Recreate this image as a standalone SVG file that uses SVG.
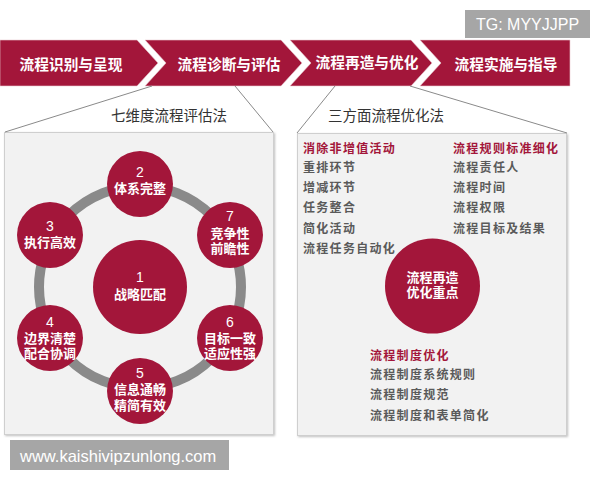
<svg xmlns="http://www.w3.org/2000/svg" width="600" height="480" viewBox="0 0 600 480">
<defs>
<style>
.chev{fill:#a3163a;stroke:#e9c9d0;stroke-width:0.6}
.bt{font-family:"Noto Sans CJK SC","Liberation Sans",sans-serif;font-size:14.7px;font-weight:bold;fill:#fff;text-anchor:middle;dominant-baseline:central}
.title{font-family:"Noto Sans CJK SC","Liberation Sans",sans-serif;font-size:14.5px;fill:#333;dominant-baseline:central}
.panel{fill:#f2f2f2;stroke:#cfcfcf;stroke-width:1}
.funnel{stroke:#8a8a8a;stroke-width:1;fill:none}
.ring{fill:none;stroke:#8a8a8a;stroke-width:10}
.dot{fill:#a3163a}
.ct{font-family:"Noto Sans CJK SC","Liberation Sans",sans-serif;font-size:13px;font-weight:bold;fill:#fff;text-anchor:middle;dominant-baseline:central}
.num{font-family:"Liberation Sans",Arial,sans-serif;font-size:14px;font-weight:normal}
.hd{font-family:"Noto Sans CJK SC","Liberation Sans",sans-serif;font-size:12px;font-weight:bold;fill:#a3163a;letter-spacing:1.3px;dominant-baseline:central}
.it{font-family:"Noto Sans CJK SC","Liberation Sans",sans-serif;font-size:12px;font-weight:bold;fill:#5a5a5a;letter-spacing:1.3px;dominant-baseline:central}
.tag{fill:#a6a6a6}
.tt{font-family:"Liberation Sans",Arial,sans-serif;fill:#fff;dominant-baseline:central}
</style>
<filter id="sh" x="-5%" y="-5%" width="110%" height="110%">
<feDropShadow dx="1" dy="1" stdDeviation="0.8" flood-color="#000" flood-opacity="0.25"/>
</filter>
</defs>
<rect width="600" height="480" fill="#fff"/>

<g id="tag-tg">
<rect class="tag" x="465" y="10" width="125" height="28"/>
<text class="tt" x="527.5" y="24.5" font-size="16" text-anchor="middle">TG: MYYJJPP</text>
</g>

<g id="step1">
<polygon class="chev" points="0,40 137,40 158,63 137,86 0,86"/>
<text class="bt" x="71" y="63">流程识别与呈现</text>
</g>
<g id="step2">
<polygon class="chev" points="145,40 281,40 302,63 281,86 145,86 166,63"/>
<text class="bt" x="229" y="63">流程诊断与评估</text>
</g>
<g id="step3">
<polygon class="chev" points="290,40 411,40 432,63 411,86 290,86 311,63"/>
<text class="bt" x="367" y="61">流程再造与优化</text>
</g>
<g id="step4">
<polygon class="chev" points="420,40 570,40 570,86 420,86 441,63"/>
<text class="bt" x="506" y="63">流程实施与指导</text>
</g>

<g id="panel-left">
<rect class="panel" x="4.5" y="132.5" width="269" height="302" filter="url(#sh)"/>
<text class="title" x="111" y="114">七维度流程评估法</text>
</g>
<g id="panel-right">
<rect class="panel" x="297.5" y="133.5" width="269" height="302" filter="url(#sh)"/>
<text class="title" x="328" y="114">三方面流程优化法</text>
</g>

<g id="connectors">
<line class="funnel" x1="152" y1="86" x2="5" y2="132"/>
<line class="funnel" x1="235" y1="86" x2="273" y2="132"/>
<line class="funnel" x1="335" y1="86" x2="297" y2="133"/>
<line class="funnel" x1="410" y1="86" x2="567" y2="133"/>
<circle class="ring" cx="140" cy="287" r="101"/>
</g>

<g id="c1">
<circle class="dot" cx="140" cy="287" r="47"/>
<text class="ct" x="140" y="277"><tspan class="num">1</tspan><tspan x="140" dy="16">战略匹配</tspan></text>
</g>
<g id="c2">
<circle class="dot" cx="140" cy="184" r="33"/>
<text class="ct" x="140" y="172"><tspan class="num">2</tspan><tspan x="140" dy="15">体系完整</tspan></text>
</g>
<g id="c7">
<circle class="dot" cx="230" cy="235" r="33"/>
<text class="ct" x="230" y="216"><tspan class="num">7</tspan><tspan x="230" dy="16">竞争性</tspan><tspan x="230" dy="15">前瞻性</tspan></text>
</g>
<g id="c6">
<circle class="dot" cx="230" cy="338" r="33"/>
<text class="ct" x="230" y="322"><tspan class="num">6</tspan><tspan x="230" dy="15">目标一致</tspan><tspan x="230" dy="15">适应性强</tspan></text>
</g>
<g id="c5">
<circle class="dot" cx="140" cy="391" r="33"/>
<text class="ct" x="140" y="373"><tspan class="num">5</tspan><tspan x="140" dy="15">信息通畅</tspan><tspan x="140" dy="16">精简有效</tspan></text>
</g>
<g id="c4">
<circle class="dot" cx="50" cy="338" r="33"/>
<text class="ct" x="50" y="322"><tspan class="num">4</tspan><tspan x="50" dy="15">边界清楚</tspan><tspan x="50" dy="15">配合协调</tspan></text>
</g>
<g id="c3">
<circle class="dot" cx="50" cy="235" r="33"/>
<text class="ct" x="50" y="226"><tspan class="num">3</tspan><tspan x="50" dy="15">执行高效</tspan></text>
</g>

<g id="opt-center">
<circle class="dot" cx="432.5" cy="286" r="47.5"/>
<text class="ct" x="432.5" y="276">流程再造<tspan x="432.5" dy="15">优化重点</tspan></text>
</g>
<g id="opt-nonvalue">
<text class="hd" x="303" y="147">消除非增值活动</text>
<text class="it" x="303" y="166">重排环节</text>
<text class="it" x="303" y="186">增减环节</text>
<text class="it" x="303" y="206">任务整合</text>
<text class="it" x="303" y="227">简化活动</text>
<text class="it" x="303" y="247">流程任务自动化</text>
</g>
<g id="opt-rules">
<text class="hd" x="453" y="147">流程规则标准细化</text>
<text class="it" x="453" y="166">流程责任人</text>
<text class="it" x="453" y="186">流程时间</text>
<text class="it" x="453" y="206">流程权限</text>
<text class="it" x="453" y="227">流程目标及结果</text>
</g>
<g id="opt-system">
<text class="hd" x="370" y="354">流程制度优化</text>
<text class="it" x="370" y="373">流程制度系统规则</text>
<text class="it" x="370" y="393">流程制度规范</text>
<text class="it" x="370" y="414">流程制度和表单简化</text>
</g>

<g id="tag-url">
<rect class="tag" x="10" y="440" width="219" height="30"/>
<text class="tt" x="20" y="455.5" font-size="16.5">www.kaishivipzunlong.com</text>
</g>
</svg>
